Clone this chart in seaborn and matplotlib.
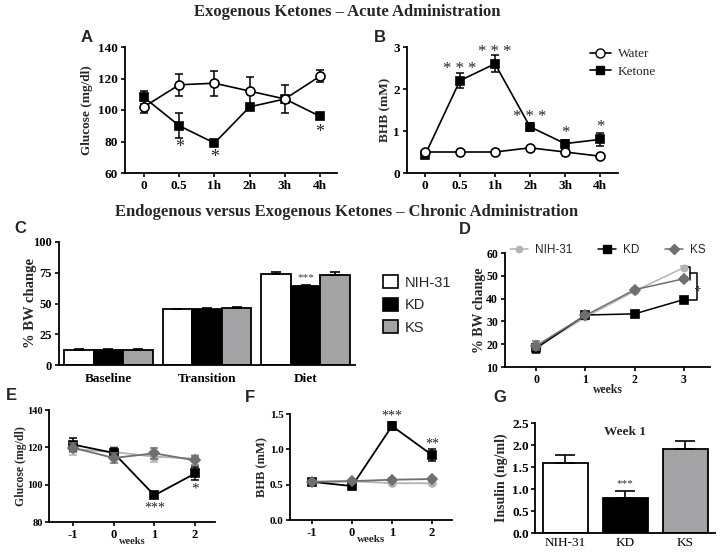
import numpy as np
import pandas as pd
import matplotlib
matplotlib.use("Agg")
import matplotlib.pyplot as plt
from matplotlib.lines import Line2D
from matplotlib.patches import Patch
import seaborn as sns

# ---- data ----
acute_times = ['0', '0.5', '1h', '2h', '3h', '4h']
glu_water = [102, 116, 117, 112, 107, 121.5]
glu_water_err = [4, 7, 8, 9, 2, 4]
glu_ketone = [108, 90, 79, 102, 107, 96]
glu_ketone_err = [4, 8, 1.5, 2, 9, 1.5]
glu_stars = ['', '*', '*', '', '', '*']
glu_star_y = [0, 76, 70, 0, 0, 86]

bhb_water = [0.5, 0.5, 0.5, 0.6, 0.5, 0.4]
bhb_water_err = [0.03, 0.02, 0.02, 0.03, 0.02, 0.02]
bhb_ketone = [0.42, 2.2, 2.6, 1.1, 0.7, 0.8]
bhb_ketone_err = [0.05, 0.18, 0.2, 0.09, 0.08, 0.15]
bhb_stars = ['', '* * *', '* * *', '* * *', '*', '*']
bhb_star_y = [0, 2.48, 2.87, 1.34, 0.96, 1.09]

diets = ['NIH-31', 'KD', 'KS']
phases = ['Baseline', 'Transition', 'Diet']
bw_nih = [12.5, 45.3, 73.7]
bw_nih_err = [0.6, 0.6, 2.3]
bw_kd = [12.6, 45.9, 64.3]
bw_kd_err = [0.5, 0.5, 0.8]
bw_ks = [12.4, 46.0, 73.0]
bw_ks_err = [0.6, 1.5, 2.6]

weeks_d = [0, 1, 2, 3]
d_nih = [18.5, 31.8, 43.3, 53.6]
d_kd = [18.2, 32.8, 33.3, 39.6]
d_ks = [19.3, 32.6, 43.9, 48.7]
d_err = [2.0, 0.8, 0.8, 0.8]

weeks_ef = [-1, 0, 1, 2]
e_nih = [119, 117.5, 115, 114]
e_nih_err = [3, 2.5, 3, 2]
e_kd = [121.5, 117, 94.3, 106]
e_kd_err = [3.5, 2.5, 1.5, 3.5]
e_ks = [119.8, 114.3, 116.8, 113]
e_ks_err = [2.5, 2.5, 3, 2.5]

f_nih = [0.54, 0.55, 0.52, 0.52]
f_nih_err = [0.02, 0.02, 0.02, 0.02]
f_kd = [0.54, 0.48, 1.33, 0.92]
f_kd_err = [0.03, 0.03, 0.06, 0.08]
f_ks = [0.54, 0.55, 0.57, 0.58]
f_ks_err = [0.02, 0.02, 0.02, 0.02]

insulin = [1.6, 0.8, 1.9]
insulin_err = [0.17, 0.15, 0.18]

# ---- style ----
sns.set_style("ticks")
SERIF = ['Liberation Serif', 'DejaVu Serif']
SANS = ['Liberation Sans', 'DejaVu Sans']
plt.rcParams['font.family'] = SERIF
plt.rcParams['font.weight'] = 'bold'
plt.rcParams['axes.labelweight'] = 'bold'
plt.rcParams['axes.unicode_minus'] = False
plt.rcParams['axes.linewidth'] = 1.3
plt.rcParams['xtick.major.width'] = 1.2
plt.rcParams['ytick.major.width'] = 1.2
plt.rcParams['xtick.major.size'] = 3
plt.rcParams['ytick.major.size'] = 3
plt.rcParams['xtick.color'] = 'black'
plt.rcParams['ytick.color'] = 'black'
plt.rcParams['axes.edgecolor'] = 'black'

c_nih = '#b3b3b3'
c_kd = 'black'
c_ks = '#6f6f6f'
bar_cols = ['white', 'black', '#a3a3a6']

W, H = 720, 553
fig = plt.figure(figsize=(7.2, 5.53), dpi=100)


def box(l, t, r, b):
    return [l / W, 1 - b / H, (r - l) / W, (b - t) / H]


def ftext(x, y, s, **kw):
    fig.text(x / W, 1 - y / H, s, **kw)


def series(ax, x, y, err, color, marker, ms, mfc=None, z=3, lw=1.2):
    sns.lineplot(x=x, y=y, ax=ax, color=color, marker=marker, markersize=ms,
                 markerfacecolor=mfc if mfc else color, markeredgecolor=color,
                 markeredgewidth=1.2, linewidth=lw, zorder=z)
    ax.errorbar(x, y, yerr=err, fmt='none', ecolor=color, elinewidth=1.1,
                capsize=3, capthick=1.1, zorder=z - 0.5)


# titles and panel letters
ftext(347, 12, 'Exogenous Ketones \u2013 Acute Administration', fontsize=12,
      ha='center', va='center')
ftext(347, 212, 'Endogenous versus Exogenous Ketones \u2013 Chronic Administration',
      fontsize=12, ha='center', va='center')
for lab, x, y in [('A', 87, 38), ('B', 380, 38), ('C', 20, 229), ('D', 465, 230),
                  ('E', 11, 395), ('F', 250, 398), ('G', 500, 398)]:
    ftext(x, y, lab, fontsize=12, family=SANS, weight='bold', ha='center', va='center')

# ---- A ----
ax = fig.add_axes(box(125, 47, 337, 173))
xs = np.arange(len(acute_times))
series(ax, xs, glu_ketone, glu_ketone_err, 'black', 's', 6, z=3)
series(ax, xs, glu_water, glu_water_err, 'black', 'o', 6.5, mfc='white', z=4)
for x, s, y in zip(xs, glu_stars, glu_star_y):
    if s:
        ax.text(x, y, s, ha='center', va='center', fontsize=13, weight='normal')
ax.set_xlim(-0.54, 5.48)
ax.set_ylim(60, 140)
ax.set_yticks([60, 80, 100, 120, 140])
ax.set_xticks(xs)
ax.set_xticklabels(acute_times)
ax.tick_params(labelsize=9.5, pad=2)
ax.set_ylabel('Glucose (mg/dl)', fontsize=9.5)
ax.yaxis.set_label_coords(-0.15, 0.5)
sns.despine(ax=ax)

# ---- B ----
ax = fig.add_axes(box(407, 47, 618, 173))
series(ax, xs, bhb_ketone, bhb_ketone_err, 'black', 's', 6, z=3)
series(ax, xs, bhb_water, bhb_water_err, 'black', 'o', 6.5, mfc='white', z=4)
for x, s, y in zip(xs, bhb_stars, bhb_star_y):
    if s:
        ax.text(x, y, s, ha='center', va='center', fontsize=12, weight='normal')
ax.set_xlim(-0.51, 5.51)
ax.set_ylim(0, 3)
ax.set_yticks([0, 1, 2, 3])
ax.set_xticks(xs)
ax.set_xticklabels(acute_times)
ax.tick_params(labelsize=9.5, pad=2)
ax.set_ylabel('BHB (mM)', fontsize=9.5)
ax.yaxis.set_label_coords(-0.076, 0.5)
sns.despine(ax=ax)
hb = [Line2D([], [], color='black', marker='o', mfc='white', ms=6.5, lw=1.2),
      Line2D([], [], color='black', marker='s', ms=6, lw=1.2)]
fig.legend(hb, ['Water', 'Ketone'], loc='center left',
           bbox_to_anchor=(578 / W, 1 - 63 / H), frameon=False, handlelength=1.6,
           prop={'family': SERIF, 'weight': 'normal', 'size': 9.5}, labelspacing=0.4,
           handletextpad=0.5)

# ---- C ----
ax = fig.add_axes(box(59, 242, 355, 365))
dfc = pd.DataFrame({'phase': phases * 3,
                    'diet': np.repeat(diets, 3),
                    'bw': bw_nih + bw_kd + bw_ks})
sns.barplot(data=dfc, x='phase', y='bw', hue='diet', order=phases, hue_order=diets,
            palette=bar_cols, edgecolor='black', linewidth=1.3, width=0.9, gap=0,
            errorbar=None, legend=False, ax=ax, saturation=1)
for cont, errs in zip(ax.containers, [bw_nih_err, bw_kd_err, bw_ks_err]):
    cx = [r.get_x() + r.get_width() / 2 for r in cont]
    cy = [r.get_height() for r in cont]
    ax.errorbar(cx, cy, yerr=[np.zeros(3), errs], fmt='none', ecolor='black',
                elinewidth=1.2, capsize=3.5, capthick=1.2, zorder=1)
kd_diet = ax.containers[1][2]
ax.text(kd_diet.get_x() + kd_diet.get_width() / 2, 71, '***', ha='center',
        va='center', fontsize=8, weight='normal', color='#444444')
ax.set_xlim(-0.5, 2.5)
ax.set_ylim(0, 100)
ax.set_yticks([0, 25, 50, 75, 100])
ax.tick_params(axis='x', length=0, labelsize=9.5, pad=6)
ax.tick_params(axis='y', labelsize=9, pad=2)
ax.set_xlabel('')
ax.set_ylabel('% BW change', fontsize=10.5)
ax.yaxis.set_label_coords(-0.074, 0.5)
sns.despine(ax=ax)
hc = [Patch(facecolor=c, edgecolor='black', linewidth=1.2) for c in bar_cols]
fig.legend(hc, diets, loc='upper left', bbox_to_anchor=(370 / W, 1 - 262 / H),
           frameon=False, handlelength=1.0, handleheight=1.0,
           prop={'family': SANS, 'weight': 'normal', 'size': 10.5},
           labelspacing=0.55, handletextpad=0.5)

# ---- D ----
ax = fig.add_axes(box(505, 253, 710, 367))
series(ax, weeks_d, d_nih, d_err, c_nih, 'o', 4.5, z=3, lw=1.1)
series(ax, weeks_d, d_kd, d_err, c_kd, 's', 6, z=4, lw=1.1)
series(ax, weeks_d, d_ks, d_err, c_ks, 'D', 5, z=5, lw=1.1)
ax.set_xlim(-0.63, 3.53)
ax.set_ylim(10, 60)
ax.set_yticks([10, 20, 30, 40, 50, 60])
ax.set_xticks(weeks_d)
ax.tick_params(labelsize=8.5, pad=2)
ax.set_xlabel('weeks', fontsize=8.5)
ax.xaxis.set_label_coords(0.5, -0.15)
ax.set_ylabel('% BW change', fontsize=10)
ax.yaxis.set_label_coords(-0.093, 0.5)
sns.despine(ax=ax)
# significance brackets
bx1, bx2 = 3.12, 3.26
ax.plot([bx1 - 0.06, bx1, bx1], [53.8, 53.8, 48.3], color='black', lw=1.1, clip_on=False)
ax.plot([bx1, bx2, bx2, bx1 - 0.06], [51.2, 51.2, 39.4, 39.4], color='black', lw=1.1,
        clip_on=False)
ax.text(bx2 + 0.1, 45, '*', rotation=90, ha='center', va='center', fontsize=10,
        weight='normal')
hd = [Line2D([], [], color=c_nih, marker='o', ms=4.5, lw=1.1),
      Line2D([], [], color=c_kd, marker='s', ms=6, lw=1.1),
      Line2D([], [], color=c_ks, marker='D', ms=5, lw=1.1)]
fig.legend(hd, diets, loc='center', bbox_to_anchor=(608 / W, 1 - 250 / H), ncol=3,
           frameon=False, handlelength=1.5, columnspacing=2.2, handletextpad=0.6,
           prop={'family': SANS, 'weight': 'normal', 'size': 8.5})

# ---- E ----
ax = fig.add_axes(box(49, 410, 215, 522))
series(ax, weeks_ef, e_nih, e_nih_err, c_nih, 'o', 5, z=3, lw=1.3)
series(ax, weeks_ef, e_kd, e_kd_err, c_kd, 's', 5.5, z=4, lw=1.3)
series(ax, weeks_ef, e_ks, e_ks_err, c_ks, 'D', 5, z=5, lw=1.3)
ax.text(1, 87.5, '***', ha='center', va='center', fontsize=10, weight='normal')
ax.text(2, 97.5, '*', ha='center', va='center', fontsize=11, weight='normal')
ax.set_xlim(-1.59, 2.49)
ax.set_ylim(80, 140)
ax.set_yticks([80, 100, 120, 140])
ax.set_xticks(weeks_ef)
ax.tick_params(axis='y', labelsize=7.5, pad=1.5)
ax.tick_params(axis='x', labelsize=9, pad=2)
ax.set_xlabel('weeks', fontsize=7.5)
ax.xaxis.set_label_coords(0.5, -0.13)
ax.set_ylabel('Glucose (mg/dl)', fontsize=8.5)
ax.yaxis.set_label_coords(-0.133, 0.5)
sns.despine(ax=ax)

# ---- F ----
ax = fig.add_axes(box(290, 414, 452, 520))
series(ax, weeks_ef, f_nih, f_nih_err, c_nih, 'o', 5, z=3, lw=1.3)
series(ax, weeks_ef, f_kd, f_kd_err, c_kd, 's', 5.5, z=4, lw=1.3)
series(ax, weeks_ef, f_ks, f_ks_err, c_ks, 'D', 5, z=5, lw=1.3)
ax.text(1, 1.47, '***', ha='center', va='center', fontsize=10, weight='normal')
ax.text(2, 1.08, '**', ha='center', va='center', fontsize=10, weight='normal')
ax.set_xlim(-1.55, 2.5)
ax.set_ylim(0, 1.5)
ax.set_yticks([0, 0.5, 1.0, 1.5])
ax.set_yticklabels(['0.0', '0.5', '1.0', '1.5'])
ax.set_xticks(weeks_ef)
ax.tick_params(axis='y', labelsize=8, pad=1.5)
ax.tick_params(axis='x', labelsize=9, pad=2)
ax.set_xlabel('weeks', fontsize=8)
ax.xaxis.set_label_coords(0.5, -0.14)
ax.set_ylabel('BHB (mM)', fontsize=9)
ax.yaxis.set_label_coords(-0.136, 0.5)
sns.despine(ax=ax)

# ---- G ----
ax = fig.add_axes(box(535, 423, 715, 533))
sns.barplot(x=diets, y=insulin, hue=diets, palette=bar_cols, edgecolor='black',
            linewidth=1.3, width=0.75, errorbar=None, legend=False, ax=ax, saturation=1)
ax.errorbar(np.arange(3), insulin, yerr=[np.zeros(3), insulin_err], fmt='none',
            ecolor='black', elinewidth=1.2, capsize=7, capthick=1.2, zorder=1)
ax.text(1, 1.13, '***', ha='center', va='center', fontsize=8, weight='normal',
        color='#333333')
ax.text(0.5, 0.97, 'Week 1', transform=ax.transAxes, ha='center', va='top',
        fontsize=9.5)
ax.set_xlim(-0.5, 2.5)
ax.set_ylim(0, 2.5)
ax.set_yticks([0, 0.5, 1.0, 1.5, 2.0, 2.5])
ax.set_yticklabels(['0.0', '0.5', '1.0', '1.5', '2.0', '2.5'])
ax.tick_params(axis='y', labelsize=9.5, pad=1.5)
ax.tick_params(axis='x', length=0, labelsize=9.5, pad=3)
for t in ax.get_xticklabels():
    t.set_fontweight('normal')
ax.set_ylabel('Insulin (ng/ml)', fontsize=10)
ax.yaxis.set_label_coords(-0.15, 0.5)
sns.despine(ax=ax)

fig.savefig('out.png', dpi=100)
